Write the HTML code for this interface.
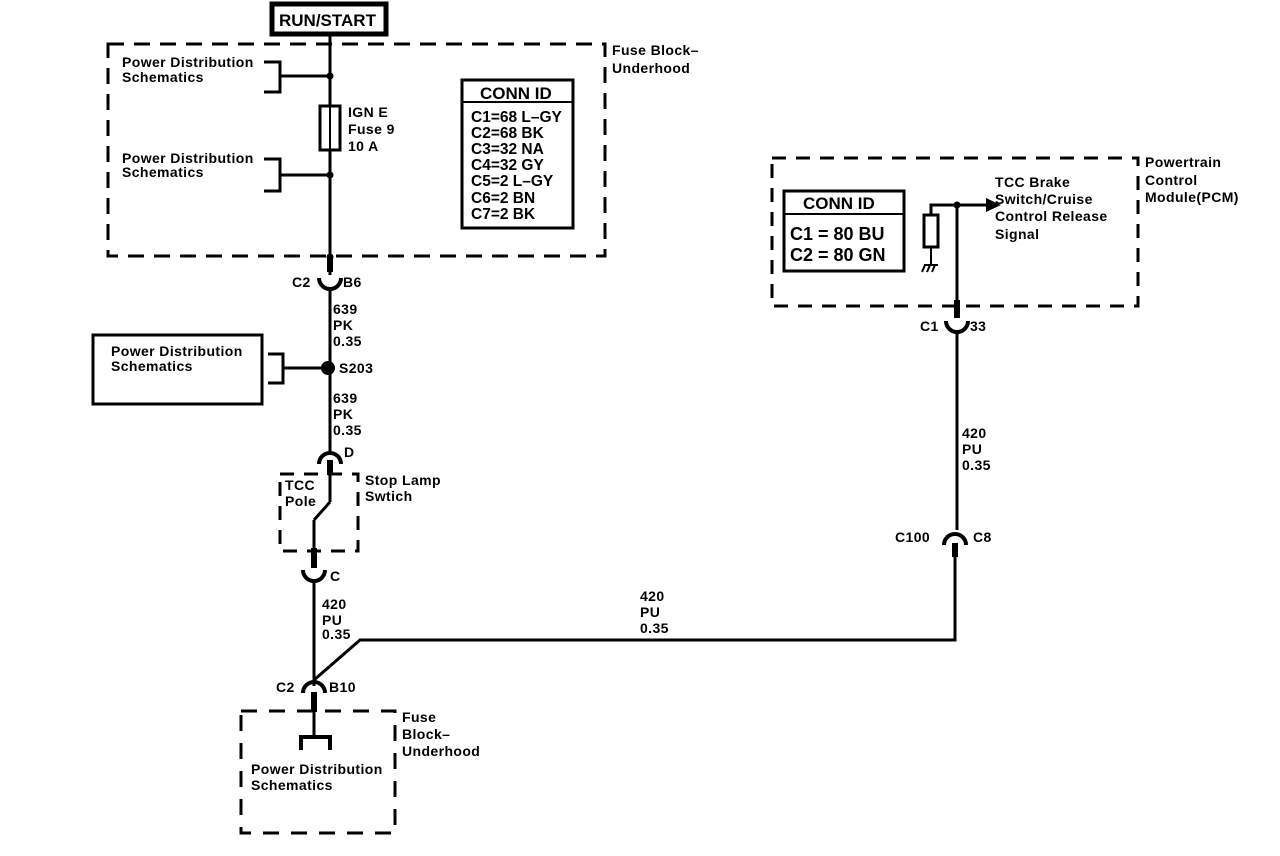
<!DOCTYPE html>
<html><head><meta charset="utf-8"><style>
html,body{margin:0;padding:0;background:#fff;}
svg{display:block;}
text{font-family:"Liberation Sans",Arial,sans-serif;font-weight:bold;font-size:14px;fill:#000;letter-spacing:0.4px;}
text.h{font-size:17px;letter-spacing:0;}
text.m{font-size:15.5px;letter-spacing:0;}
text.b{font-size:18px;letter-spacing:0;}
</style></head><body>
<svg width="1280" height="856" viewBox="0 0 1280 856" xmlns="http://www.w3.org/2000/svg">
<g fill="none" stroke="#000">
<rect x="272" y="4" width="114" height="30" stroke-width="5"/>
<rect x="108" y="44" width="497" height="212" stroke-width="3" stroke-dasharray="16,10"/>
<line x1="330" y1="34" x2="330" y2="106" stroke-width="3"/>
<rect x="320" y="106" width="20" height="44" stroke-width="3"/>
<line x1="330" y1="106" x2="330" y2="150" stroke-width="2"/>
<line x1="330" y1="150" x2="330" y2="275" stroke-width="3"/>
<line x1="330" y1="258" x2="330" y2="272" stroke-width="6"/>
<path d="M264 62 H280 V92 H264 M280 76 H330" stroke-width="3"/>
<path d="M264 159 H280 V191 H264 M280 175 H330" stroke-width="3"/>
<rect x="462" y="80" width="111" height="148" stroke-width="3"/>
<line x1="462" y1="102" x2="573" y2="102" stroke-width="2"/>
<path d="M319 278 A11 11 0 0 0 341 278" stroke-width="4"/>
<line x1="330" y1="288" x2="330" y2="455" stroke-width="3"/>
<rect x="93" y="335" width="169" height="69" stroke-width="3"/>
<path d="M268 354 H283 V383 H268 M283 368 H328" stroke-width="3"/>
<path d="M319 464 A11 11 0 0 1 341 464" stroke-width="4"/>
<line x1="330" y1="460" x2="330" y2="475" stroke-width="6"/>
<line x1="330" y1="475" x2="330" y2="502" stroke-width="3"/>
<line x1="330" y1="502" x2="314" y2="520" stroke-width="3"/>
<line x1="314" y1="520" x2="314" y2="555" stroke-width="3"/>
<line x1="314" y1="548" x2="314" y2="568" stroke-width="6"/>
<rect x="280" y="474" width="78" height="77" stroke-width="3" stroke-dasharray="14,10"/>
<path d="M303 570 A11 11 0 0 0 325 570" stroke-width="4"/>
<line x1="314" y1="580" x2="314" y2="686" stroke-width="3"/>
<path d="M314 680 L360 640 H955 V548" stroke-width="3"/>
<path d="M303 693 A11 11 0 0 1 325 693" stroke-width="4"/>
<line x1="314" y1="692" x2="314" y2="712" stroke-width="6"/>
<line x1="314" y1="712" x2="314" y2="737" stroke-width="3"/>
<path d="M301 750 V737 H330 V750" stroke-width="4"/>
<rect x="241" y="711" width="154" height="122" stroke-width="3" stroke-dasharray="16,12"/>
<path d="M944 545 A11 11 0 0 1 966 545" stroke-width="4"/>
<line x1="955" y1="543" x2="955" y2="557" stroke-width="6"/>
<rect x="772" y="158" width="366" height="148" stroke-width="3" stroke-dasharray="14,10"/>
<rect x="784" y="191" width="120" height="80" stroke-width="3"/>
<line x1="784" y1="214" x2="904" y2="214" stroke-width="2"/>
<rect x="924" y="215" width="14" height="32" stroke-width="3"/>
<path d="M931 215 V205 H988" stroke-width="3"/>
<path d="M931 247 V265 M924 265 H938 M925 265 L922 272 M930 265 L927 272 M935 265 L932 272" stroke-width="2"/>
<line x1="957" y1="205" x2="957" y2="318" stroke-width="3"/>
<line x1="957" y1="300" x2="957" y2="318" stroke-width="6"/>
<path d="M946 321 A11 11 0 0 0 968 321" stroke-width="4"/>
<line x1="957" y1="330" x2="957" y2="530" stroke-width="3"/>
</g>
<g fill="#000">
<circle cx="330" cy="76" r="3.5"/>
<circle cx="330" cy="175" r="3.5"/>
<circle cx="330" cy="257" r="3.5"/>
<circle cx="328" cy="368" r="7"/>
<circle cx="957" cy="205" r="3.5"/>
<polygon points="986,198 1001,205 986,212"/>
</g>
<text x="279" y="26" class="h">RUN/START</text>
<text x="612" y="55">Fuse Block–</text>
<text x="612" y="73">Underhood</text>
<text x="122" y="67">Power Distribution</text>
<text x="122" y="82">Schematics</text>
<text x="122" y="163">Power Distribution</text>
<text x="122" y="177">Schematics</text>
<text x="348" y="117">IGN E</text>
<text x="348" y="134">Fuse 9</text>
<text x="348" y="151">10 A</text>
<text x="480" y="99" class="h">CONN ID</text>
<text x="471" y="122" class="m">C1=68 L–GY</text>
<text x="471" y="138" class="m">C2=68 BK</text>
<text x="471" y="154" class="m">C3=32 NA</text>
<text x="471" y="170" class="m">C4=32 GY</text>
<text x="471" y="186" class="m">C5=2 L–GY</text>
<text x="471" y="203" class="m">C6=2 BN</text>
<text x="471" y="219" class="m">C7=2 BK</text>
<text x="292" y="287">C2</text>
<text x="343" y="287">B6</text>
<text x="333" y="314">639</text>
<text x="333" y="330">PK</text>
<text x="333" y="346">0.35</text>
<text x="111" y="356">Power Distribution</text>
<text x="111" y="371">Schematics</text>
<text x="339" y="373">S203</text>
<text x="333" y="403">639</text>
<text x="333" y="419">PK</text>
<text x="333" y="435">0.35</text>
<text x="344" y="457">D</text>
<text x="285" y="490">TCC</text>
<text x="285" y="506">Pole</text>
<text x="365" y="485">Stop Lamp</text>
<text x="365" y="501">Swtich</text>
<text x="330" y="581">C</text>
<text x="322" y="609">420</text>
<text x="322" y="625">PU</text>
<text x="322" y="639">0.35</text>
<text x="640" y="601">420</text>
<text x="640" y="617">PU</text>
<text x="640" y="633">0.35</text>
<text x="276" y="692">C2</text>
<text x="329" y="692">B10</text>
<text x="402" y="722">Fuse</text>
<text x="402" y="739">Block–</text>
<text x="402" y="756">Underhood</text>
<text x="251" y="774">Power Distribution</text>
<text x="251" y="790">Schematics</text>
<text x="895" y="542">C100</text>
<text x="973" y="542">C8</text>
<text x="962" y="438">420</text>
<text x="962" y="454">PU</text>
<text x="962" y="470">0.35</text>
<text x="920" y="331">C1</text>
<text x="970" y="331">33</text>
<text x="1145" y="167">Powertrain</text>
<text x="1145" y="185">Control</text>
<text x="1145" y="202">Module(PCM)</text>
<text x="803" y="209" class="h">CONN ID</text>
<text x="790" y="240" class="b">C1 = 80 BU</text>
<text x="790" y="261" class="b">C2 = 80 GN</text>
<text x="995" y="187">TCC Brake</text>
<text x="995" y="204">Switch/Cruise</text>
<text x="995" y="221">Control Release</text>
<text x="995" y="239">Signal</text>
</svg>
</body></html>
